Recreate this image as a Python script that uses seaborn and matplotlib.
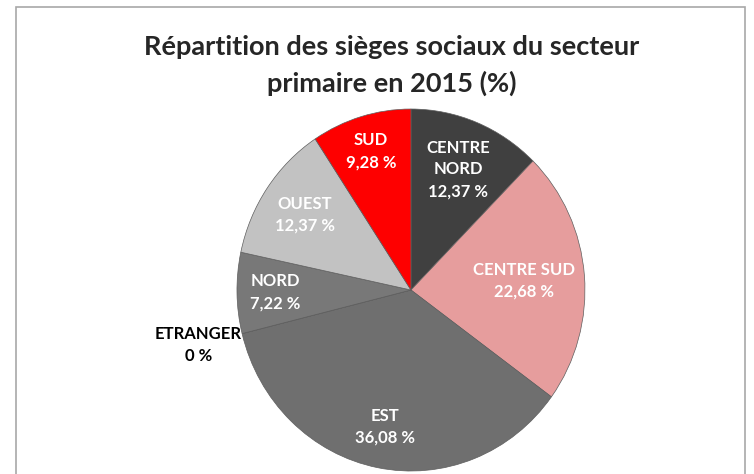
import numpy as np
import matplotlib
matplotlib.use('Agg')
import matplotlib.pyplot as plt
import seaborn as sns
from matplotlib.patches import Rectangle

sns.set_style('white')
plt.rcParams['font.family'] = ['Lato', 'DejaVu Sans']

# données (ordre horaire depuis le haut)
regions = ['CENTRE\nNORD', 'CENTRE SUD', 'EST', 'ETRANGER', 'NORD', 'OUEST', 'SUD']
parts = [12.37, 22.68, 36.08, 0, 7.22, 12.37, 9.28]
etiquettes = ['12,37 %', '22,68 %', '36,08 %', '0 %', '7,22 %', '12,37 %', '9,28 %']

couleurs = ['#404040', '#e69d9d', '#6f6f6f', '#6f6f6f', '#787878', '#c2c2c2', '#fe0000']
# distance des étiquettes au centre (en rayon)
dist = [0.72, 0.65, 0.77, 1.26, 0.78, 0.74, 0.80]
couleur_txt = ['white'] * 7
couleur_txt[3] = 'black'

fig = plt.figure(figsize=(7.54, 4.74), dpi=100)
fig.patch.set_facecolor('white')
fig.patches.append(Rectangle((0.021, -0.1), 0.967, 1.085, transform=fig.transFigure,
                             fill=False, edgecolor='#a8a8a8', linewidth=1.2))

ax = fig.add_axes([0.3143, 0.0063, 0.4615, 0.7637])
wedges, _ = ax.pie(parts, colors=couleurs, startangle=90, counterclock=False,
                   wedgeprops=dict(edgecolor='#5e5e5e', linewidth=0.5))
ax.set_aspect('auto')
ax.set_xlim(-1, 1)
ax.set_ylim(-1, 1)

for w, nom, lab, d, c in zip(wedges, regions, etiquettes, dist, couleur_txt):
    ang = np.deg2rad((w.theta1 + w.theta2) / 2)
    ax.text(d * np.cos(ang), d * np.sin(ang), nom + '\n' + lab, ha='center', va='center',
            color=c, fontsize=12, fontweight='bold', linespacing=1.45)

fig.text(0.519, 0.862, 'Répartition des sièges sociaux du secteur\nprimaire en 2015 (%)',
         ha='center', va='center', fontsize=19.5, fontweight='bold', linespacing=1.55)

fig.savefig('out.png', dpi=100)
